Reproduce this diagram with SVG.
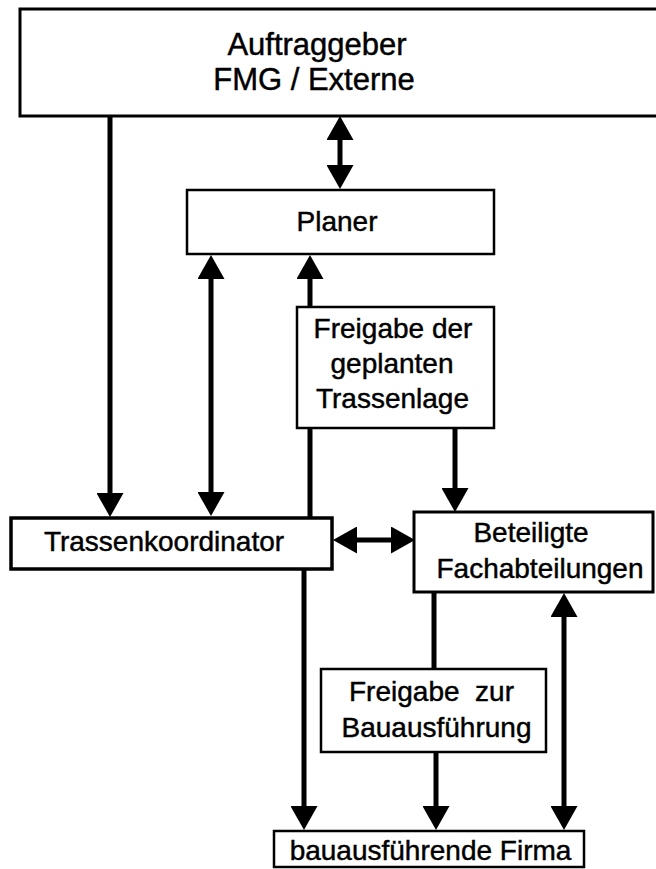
<svg xmlns="http://www.w3.org/2000/svg" width="656" height="869" viewBox="0 0 656 869">
<style>
.box{fill:#fff;stroke:#000;stroke-width:3}
.thin{stroke-width:2.5}
.lbl{font-family:"Liberation Sans",Arial,sans-serif;font-size:28px;fill:#000;stroke:#000;stroke-width:0.45;text-anchor:middle}
.big{font-size:31px}
.conn{stroke:#000;stroke-width:5;fill:none}
</style>
<defs>
<marker id="ah" viewBox="0 0 24 27" refX="14" refY="13.5" markerWidth="24" markerHeight="27" markerUnits="userSpaceOnUse" orient="auto-start-reverse">
<path d="M0,0 L24,13.5 L0,27 Z" fill="#000"/>
</marker>
</defs>
<rect width="656" height="869" fill="#fff"/>
<g id="connectors">
<line class="conn" x1="110" y1="116" x2="110" y2="507" marker-end="url(#ah)"/>
<line class="conn" x1="340" y1="126" x2="340" y2="179" marker-start="url(#ah)" marker-end="url(#ah)"/>
<line class="conn" x1="211" y1="265" x2="211" y2="506" marker-start="url(#ah)" marker-end="url(#ah)"/>
<line class="conn" x1="310" y1="517" x2="310" y2="265" marker-end="url(#ah)"/>
<line class="conn" x1="455" y1="428" x2="455" y2="502" marker-end="url(#ah)"/>
<line class="conn" x1="343" y1="540" x2="405" y2="540" marker-start="url(#ah)" marker-end="url(#ah)"/>
<line class="conn" x1="304" y1="570" x2="304" y2="820" marker-end="url(#ah)"/>
<line class="conn" x1="434" y1="592" x2="434" y2="669"/>
<line class="conn" x1="436" y1="752" x2="436" y2="820" marker-end="url(#ah)"/>
<line class="conn" x1="564" y1="603" x2="564" y2="820" marker-start="url(#ah)" marker-end="url(#ah)"/>
</g>
<g id="auftraggeber">
<rect class="box" x="20" y="9" width="660" height="107"/>
<text class="lbl big" x="317" y="55">Auftraggeber</text>
<text class="lbl big" x="314" y="90">FMG / Externe</text>
</g>
<g id="planer">
<rect class="box thin" x="187" y="190" width="307" height="64"/>
<text class="lbl" x="337" y="231">Planer</text>
</g>
<g id="freigabe-trassenlage">
<rect class="box thin" x="297" y="307" width="197" height="121"/>
<text class="lbl" x="393" y="338">Freigabe der</text>
<text class="lbl" x="392" y="373">geplanten</text>
<text class="lbl" x="392.5" y="408">Trassenlage</text>
</g>
<g id="trassenkoordinator">
<rect class="box" x="11" y="518" width="321" height="51" style="stroke-width:3.5"/>
<text class="lbl" x="164" y="551">Trassenkoordinator</text>
</g>
<g id="fachabteilungen">
<rect class="box" x="414" y="512" width="239" height="80"/>
<text class="lbl" x="531" y="542">Beteiligte</text>
<text class="lbl" x="540" y="578">Fachabteilungen</text>
</g>
<g id="freigabe-bau">
<rect class="box thin" x="321" y="669" width="225" height="83"/>
<text class="lbl" x="431.5" y="701" xml:space="preserve">Freigabe  zur</text>
<text class="lbl" x="436.5" y="737">Bauausführung</text>
</g>
<g id="firma">
<rect class="box thin" x="274" y="831" width="310" height="36"/>
<text class="lbl" x="430.5" y="860">bauausführende Firma</text>
</g>
</svg>
